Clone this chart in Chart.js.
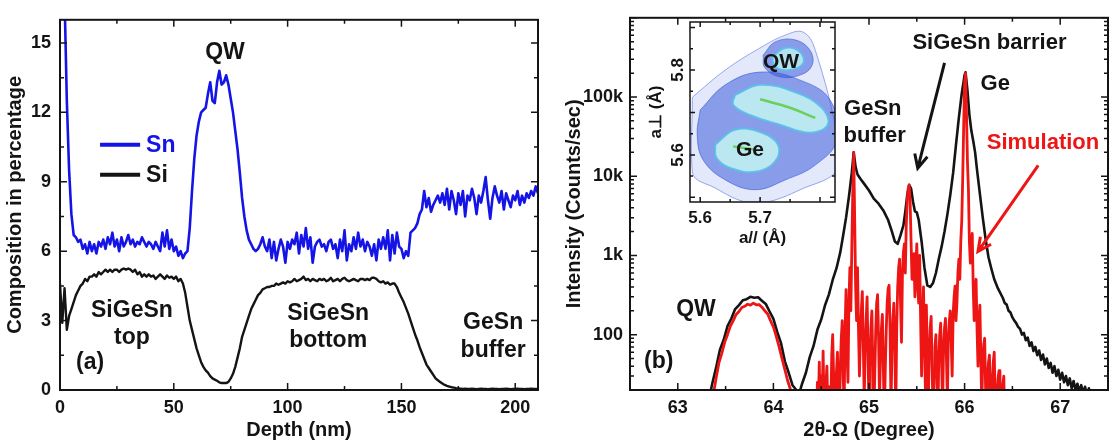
<!DOCTYPE html>
<html>
<head>
<meta charset="utf-8">
<script src="https://cdn.jsdelivr.net/npm/chart.js@4/dist/chart.umd.min.js"></script>
<style>
  html, body { margin: 0; padding: 0; background: #fff; }
  #wrap { position: relative; width: 1111px; height: 440px; overflow: hidden; }
  .box { position: absolute; }
</style>
</head>
<body>
<div id="wrap">
  <div class="box" style="left:0;top:0;width:555px;height:440px"><canvas id="depthChart"></canvas></div>
  <div class="box" style="left:555px;top:0;width:556px;height:440px"><canvas id="xrdChart"></canvas></div>
  <div class="box" style="left:635px;top:10px;width:205px;height:245px"><canvas id="rsmChart"></canvas></div>
</div>
<script>
// ---- (a) depth profile, 1 nm sampling ----
const depthNm = Array.from({ length: 211 }, (_, i) => i);
const snPct = [
  30, 24, 17, 12.5, 9.5, 7.6, 6.7, 6.6, 6.4, 6.5,
  6.1, 6.3, 5.9, 6.4, 6.0, 6.3, 5.9, 6.4, 6.2, 6.5,
  6.1, 6.6, 6.3, 6.8, 6.2, 6.5, 6.0, 6.6, 6.2, 6.4,
  6.7, 6.3, 6.5, 6.2, 6.4, 6.3, 6.6, 6.4, 6.2, 6.4,
  6.3, 6.1, 6.4, 6.2, 6.0, 6.8, 6.2, 6.9, 6.1, 6.5,
  6.0, 6.2, 5.8, 6.0, 5.7, 5.9, 6.0, 7.0, 8.6, 10.0,
  11.0, 11.6, 12.0, 12.1, 12.2, 12.8, 13.3, 12.5, 12.4, 13.3,
  13.8, 13.2, 13.3, 13.6, 13.2, 12.6, 12.0, 11.2, 10.4, 9.4,
  8.3, 7.5, 6.9, 6.5, 6.3, 6.1, 6.0, 6.1, 6.3, 6.6,
  6.2, 6.0, 6.5, 5.7, 6.4, 5.6, 6.1, 6.5, 6.2, 5.5,
  6.4, 6.1, 6.5, 6.3, 6.8, 5.9, 6.7, 6.2, 7.0, 6.1,
  6.6, 5.5, 6.2, 6.4, 6.5, 6.2, 6.3, 6.0, 6.4, 6.5,
  6.1, 6.3, 5.7, 6.5, 6.0, 6.9, 5.6, 6.3, 6.0, 6.6,
  6.1, 6.8, 6.2, 6.5, 6.0, 6.4, 6.2, 5.8, 6.3, 5.6,
  6.5, 6.1, 6.6, 6.1, 6.9, 5.6, 6.7, 5.9, 6.8, 6.2,
  6.1, 5.7, 6.0, 5.8, 6.8, 6.9, 7.0, 7.2, 7.6, 7.8,
  8.6, 7.9, 8.3, 7.7, 8.0, 8.2, 8.4, 8.1, 8.5, 8.0,
  8.7, 7.8, 8.6, 8.2, 7.6, 8.5, 8.0, 8.6, 7.5, 8.4,
  8.2, 8.7, 8.3, 7.6, 8.4, 8.1, 8.6, 9.2, 8.2, 7.4,
  8.3, 8.8, 8.4, 8.1, 8.6, 7.8, 8.5, 8.2, 7.9, 8.4,
  8.2, 8.6, 8.0, 8.4, 8.1, 8.5, 8.3, 8.6, 8.4, 8.8,
  8.5
];
const siPct = [
  4.6, 2.9, 4.4, 2.6, 3.2, 3.5, 3.8, 4.1, 4.3, 4.5,
  4.6, 4.8, 4.7, 4.9, 4.9, 5.0, 4.9, 5.1, 5.0, 5.1,
  5.2, 5.1, 5.2, 5.1, 5.2, 5.2, 5.1, 5.2, 5.25, 5.2,
  5.25, 5.2, 5.1, 5.2, 5.0, 5.1, 4.9, 5.0, 4.9, 5.0,
  4.9, 4.95, 4.8, 4.9, 5.0, 4.9, 4.8, 4.95, 4.85, 4.9,
  4.8, 4.9, 4.7, 4.8, 4.6, 4.2, 3.6, 3.0, 2.6, 2.2,
  1.8, 1.5, 1.2, 1.0, 0.85, 0.75, 0.6, 0.5, 0.45, 0.4,
  0.33, 0.3, 0.3, 0.3, 0.35, 0.5, 0.7, 1.0, 1.4, 1.8,
  2.3, 2.6, 2.9, 3.2, 3.5, 3.7, 3.9, 4.1, 4.2, 4.35,
  4.4, 4.45, 4.45, 4.5, 4.5, 4.6, 4.55, 4.6, 4.65, 4.6,
  4.7, 4.65, 4.7, 4.8, 4.7, 4.75, 4.8, 4.9, 4.75, 4.8,
  4.7, 4.8, 4.75, 4.7, 4.8, 4.75, 4.8, 4.7, 4.75, 4.85,
  4.7, 4.75, 4.8, 4.7, 4.8, 4.85, 4.75, 4.7, 4.75, 4.8,
  4.75, 4.7, 4.8, 4.8, 4.75, 4.8, 4.75, 4.85, 4.85, 4.8,
  4.7, 4.65, 4.7, 4.6, 4.65, 4.55, 4.6, 4.6, 4.45, 4.2,
  4.0, 3.8, 3.55, 3.3, 3.0, 2.7, 2.4, 2.15, 1.85, 1.6,
  1.35, 1.1, 0.95, 0.8, 0.65, 0.5, 0.42, 0.35, 0.28, 0.22,
  0.18, 0.15, 0.12, 0.1, 0.08, 0.07, 0.06, 0.05, 0.06, 0.05,
  0.05, 0.06, 0.05, 0.04, 0.05, 0.06, 0.05, 0.05, 0.04, 0.05,
  0.06, 0.05, 0.05, 0.04, 0.05, 0.05, 0.06, 0.05, 0.04, 0.05,
  0.05, 0.06, 0.05, 0.05, 0.04, 0.05, 0.05, 0.06, 0.05, 0.05,
  0.05
];

// ---- (b) XRD 2theta-omega scan ----
const thetaMeasured = [
  63.33, 63.36, 63.40, 63.44, 63.48, 63.52, 63.56, 63.60, 63.64, 63.68,
  63.72, 63.76, 63.80, 63.84, 63.88, 63.92, 63.96, 64.00, 64.04, 64.08,
  64.12, 64.16, 64.20, 64.24, 64.27, 64.30, 64.34, 64.38, 64.42, 64.46,
  64.50, 64.54, 64.58, 64.62, 64.66, 64.70, 64.73, 64.76, 64.79, 64.82,
  64.84, 64.86, 64.88, 64.91, 64.95, 65.00, 65.05, 65.10, 65.15, 65.20,
  65.24, 65.27, 65.30, 65.33, 65.36, 65.38, 65.40, 65.42, 65.44, 65.46,
  65.48, 65.50, 65.52, 65.55, 65.58, 65.61, 65.64, 65.67, 65.70, 65.73,
  65.76, 65.79, 65.82, 65.85, 65.88, 65.91, 65.94, 65.97, 66.00, 66.01,
  66.03, 66.05, 66.07, 66.09, 66.11, 66.13, 66.16, 66.19, 66.22, 66.25,
  66.28, 66.31, 66.35, 66.40, 66.42, 66.44, 66.46, 66.48, 66.50, 66.52,
  66.54, 66.56, 66.58, 66.60, 66.62, 66.64, 66.66, 66.68, 66.70, 66.72,
  66.74, 66.76, 66.78, 66.80, 66.82, 66.84, 66.86, 66.88, 66.90, 66.92,
  66.94, 66.96, 66.98, 67.00, 67.02, 67.04, 67.06, 67.08, 67.10, 67.12,
  67.14, 67.16, 67.18, 67.20, 67.22, 67.24, 67.26, 67.28, 67.30, 67.33
];
const countsMeasured = [
  16, 24, 38, 64, 86, 128, 160, 210, 236, 272,
  280, 300, 292, 296, 268, 244, 196, 158, 108, 78,
  46, 33, 23, 20, 18, 24, 33, 52, 72, 115,
  155, 235, 320, 490, 690, 1100, 1800, 3000, 5500, 11000,
  20000, 13000, 10500, 9300, 8000, 6600, 5200, 4500, 3700, 2800,
  2000, 1500, 1400, 1800, 2400, 3600, 5800, 7800, 7000, 4800,
  3600, 3500, 2800, 1500, 700, 420, 400, 450, 600, 900,
  1300, 2000, 3300, 5800, 11000, 25000, 55000, 110000, 190000, 205000,
  120000, 60000, 38000, 28000, 20000, 12000, 6000, 3000, 1600, 950,
  680, 500, 380, 290, 250, 240, 200, 190, 165, 150,
  140, 125, 118, 100, 105, 85, 92, 72, 80, 62,
  70, 55, 63, 48, 56, 42, 50, 38, 44, 33,
  40, 30, 36, 27, 33, 25, 30, 23, 28, 21,
  26, 20, 24, 19, 23, 18, 22, 17, 21, 16
];
const thetaSimQw = [
  63.37, 63.40, 63.43, 63.46, 63.49, 63.52, 63.55, 63.58, 63.61, 63.64,
  63.67, 63.70, 63.73, 63.76, 63.79, 63.82, 63.85, 63.88, 63.91, 63.94,
  63.97, 64.00, 64.03, 64.06, 64.09, 64.12, 64.15, 64.18, 64.21
];
const countsSimQw = [
  17, 28, 44, 58, 80, 100, 128, 150, 180, 196,
  220, 228, 242, 236, 250, 238, 240, 222, 200, 182,
  150, 125, 95, 70, 50, 36, 26, 20, 16
];
// simulated fringes, sampled every 0.01 degree from 64.45
const simFringeStart = 64.45, simFringeStep = 0.01;
const countsSimFringe = [
  8, 25, 12, 45, 10, 30, 14, 62, 12, 8,
  25, 40, 10, 6, 22, 10, 55, 100, 30, 8,
  20, 35, 60, 15, 6, 40, 90, 150, 30, 12,
  120, 370, 60, 25, 250, 700, 200, 1200, 6000, 20000,
  3000, 400, 150, 700, 120, 30, 90, 200, 350, 80,
  15, 60, 150, 300, 60, 10, 40, 120, 200, 40,
  8, 30, 110, 250, 320, 90, 15, 50, 120, 180,
  40, 8, 35, 110, 250, 380, 420, 120, 12, 60,
  160, 250, 70, 10, 120, 400, 700, 900, 250, 80,
  600, 1100, 1400, 600, 2500, 5000, 7000, 7700, 5000, 1500,
  500, 900, 1050, 300, 700, 1400, 400, 250, 1000, 150,
  30, 150, 400, 80, 20, 235, 50, 12, 60, 120,
  170, 40, 10, 30, 70, 100, 25, 8, 50, 100,
  140, 40, 12, 70, 120, 160, 50, 15, 90, 150,
  200, 80, 30, 180, 300, 410, 150, 250, 600, 900,
  500, 1500, 2700, 9000, 40000, 150000, 200000, 60000, 15000, 7000,
  1500, 800, 1300, 1900, 400, 150, 350, 500, 120, 40,
  150, 235, 50, 12, 50, 75, 90, 20, 6, 30,
  45, 55, 15, 5, 25, 45, 60, 14, 4, 18,
  28, 35, 10, 3, 15, 24, 30, 8, 3, 12,
  4
];
const simFringeTheta = countsSimFringe.map((_, i) => +(simFringeStart + i * simFringeStep).toFixed(2));
const thetaTickValues = [63, 64, 65, 66, 67];
const intensityTickLabels = { 100: '100', 1000: '1k', 10000: '10k', 100000: '100k' };

// ---- inset: reciprocal space map contours, [a//, a_perp] in Angstrom ----
const rsmArea = [[5.587, 5.736], [5.642, 5.800], [5.700, 5.852], [5.742, 5.882], [5.772, 5.889], [5.792, 5.847],
  [5.830, 5.635], [5.830, 5.565], [5.767, 5.518], [5.712, 5.489], [5.675, 5.489], [5.625, 5.522], [5.587, 5.558], [5.587, 5.736]];
const rsmCloud = [[5.600, 5.706], [5.642, 5.765], [5.700, 5.795], [5.767, 5.776], [5.817, 5.729], [5.828, 5.635],
  [5.792, 5.576], [5.742, 5.541], [5.692, 5.518], [5.642, 5.541], [5.605, 5.588], [5.595, 5.647], [5.600, 5.706]];
const rsmMainCore = [[5.658, 5.741], [5.700, 5.765], [5.758, 5.748], [5.803, 5.711], [5.813, 5.671], [5.783, 5.652],
  [5.733, 5.671], [5.683, 5.694], [5.655, 5.718], [5.658, 5.741]];
const rsmGeCore = [[5.625, 5.624], [5.658, 5.659], [5.700, 5.654], [5.730, 5.624], [5.725, 5.584], [5.692, 5.560],
  [5.650, 5.569], [5.627, 5.593], [5.625, 5.624]];
const rsmQwRing = [[5.705, 5.835], [5.725, 5.866], [5.758, 5.871], [5.783, 5.847], [5.787, 5.812], [5.767, 5.788],
  [5.733, 5.784], [5.708, 5.805], [5.705, 5.835]];
const rsmQwCore = [[5.720, 5.831], [5.742, 5.852], [5.767, 5.842], [5.772, 5.816], [5.750, 5.800], [5.725, 5.807], [5.720, 5.831]];
const rsmMainRidge = [[5.700, 5.731], [5.750, 5.711], [5.792, 5.687]];
const rsmGeRidge = [[5.655, 5.620], [5.692, 5.612]];
const rsmParTickLabels = [5.6, 5.7];
const rsmPerpTickLabels = [5.6, 5.8];

const FONT = "'Liberation Sans', Arial, sans-serif";
const INK = '#141414';
const BLUE = '#1414e6';
const RED = '#ee1515';

const toXY = (xs, ys) => xs.map((x, i) => ({ x, y: ys[i] }));
const pairs = (arr) => arr.map(p => ({ x: p[0], y: p[1] }));

// frame with inward major/minor ticks on all four sides
const frameTicks = {
  id: 'frameTicks',
  afterDraw(chart, args, opts) {
    const { ctx, chartArea: a } = chart;
    ctx.save();
    ctx.strokeStyle = INK;
    ctx.lineWidth = opts.width || 2;
    ctx.strokeRect(a.left, a.top, a.right - a.left, a.bottom - a.top);
    ctx.lineWidth = 1.5;
    const marks = (scale, spec) => {
      const out = [];
      if (spec.log) {
        const e0 = Math.floor(Math.log10(scale.min)), e1 = Math.ceil(Math.log10(scale.max));
        for (let e = e0; e <= e1; e++) {
          for (let k = 1; k < 10; k++) out.push([k * Math.pow(10, e), k === 1]);
        }
      } else {
        const ratio = Math.round(spec.major / spec.minor);
        const i0 = Math.ceil(scale.min / spec.minor - 1e-9), i1 = Math.floor(scale.max / spec.minor + 1e-9);
        for (let i = i0; i <= i1; i++) out.push([i * spec.minor, i % ratio === 0]);
      }
      return out.filter(m => m[0] >= scale.min && m[0] <= scale.max);
    };
    const big = opts.major || 7, small = opts.minor || 4;
    ctx.beginPath();
    marks(chart.scales.x, opts.x).forEach(([v, major]) => {
      const p = chart.scales.x.getPixelForValue(v), l = major ? big : small;
      ctx.moveTo(p, a.bottom); ctx.lineTo(p, a.bottom - l);
      ctx.moveTo(p, a.top); ctx.lineTo(p, a.top + l);
    });
    marks(chart.scales.y, opts.y).forEach(([v, major]) => {
      const p = chart.scales.y.getPixelForValue(v), l = major ? big : small;
      ctx.moveTo(a.left, p); ctx.lineTo(a.left + l, p);
      ctx.moveTo(a.right, p); ctx.lineTo(a.right - l, p);
    });
    ctx.stroke();
    ctx.restore();
  }
};

// text labels, arrows and legend keys placed in data coordinates
const notes = {
  id: 'notes',
  afterDraw(chart, args, opts) {
    const { ctx } = chart;
    const sx = chart.scales.x, sy = chart.scales.y;
    const px = v => sx.getPixelForValue(v), py = v => sy.getPixelForValue(v);
    ctx.save();
    ctx.textBaseline = 'middle';
    (opts.keys || []).forEach(k => {
      ctx.strokeStyle = k.color;
      ctx.lineWidth = 4;
      ctx.beginPath();
      ctx.moveTo(px(k.x1), py(k.y));
      ctx.lineTo(px(k.x2), py(k.y));
      ctx.stroke();
      ctx.fillStyle = k.color;
      ctx.textAlign = 'left';
      ctx.font = `bold ${k.size}px ${FONT}`;
      ctx.fillText(k.label, px(k.x2) + 6, py(k.y) + 1);
    });
    (opts.texts || []).forEach(t => {
      ctx.fillStyle = t.color || INK;
      ctx.textAlign = 'center';
      ctx.font = `bold ${t.size}px ${FONT}`;
      ctx.fillText(t.text, px(t.x), py(t.y));
    });
    (opts.arrows || []).forEach(ar => {
      const x1 = px(ar.from[0]), y1 = py(ar.from[1]);
      const x2 = px(ar.to[0]), y2 = py(ar.to[1]);
      const ang = Math.atan2(y2 - y1, x2 - x1), h = 15;
      ctx.strokeStyle = ar.color;
      ctx.lineWidth = 3;
      ctx.beginPath();
      ctx.moveTo(x1, y1); ctx.lineTo(x2, y2);
      ctx.moveTo(x2 - h * Math.cos(ang - 0.45), y2 - h * Math.sin(ang - 0.45));
      ctx.lineTo(x2, y2);
      ctx.lineTo(x2 - h * Math.cos(ang + 0.45), y2 - h * Math.sin(ang + 0.45));
      ctx.stroke();
    });
    ctx.restore();
  }
};

const whiteArea = {
  id: 'whiteArea',
  beforeDatasetsDraw(chart) {
    const { ctx, chartArea: a } = chart;
    ctx.save();
    ctx.fillStyle = '#fff';
    ctx.fillRect(a.left, a.top, a.right - a.left, a.bottom - a.top);
    ctx.restore();
  }
};

const tickFont = { family: FONT, size: 18, weight: 'bold' };
const titleFont = { family: FONT, size: 20, weight: 'bold', lineHeight: 1 };

// ---------- chart (a) ----------
new Chart(document.getElementById('depthChart'), {
  type: 'line',
  data: {
    datasets: [
      { label: 'Sn', data: toXY(depthNm, snPct), borderColor: BLUE, borderWidth: 2.6, pointRadius: 0, borderJoinStyle: 'round' },
      { label: 'Si', data: toXY(depthNm, siPct), borderColor: INK, borderWidth: 2.4, pointRadius: 0, borderJoinStyle: 'round' }
    ]
  },
  options: {
    responsive: true,
    maintainAspectRatio: false,
    animation: false,
    events: [],
    layout: { padding: { left: 0, right: 17, top: 12, bottom: 0 } },
    plugins: {
      legend: { display: false },
      tooltip: { enabled: false },
      frameTicks: { x: { major: 50, minor: 25 }, y: { major: 3, minor: 1.5 } },
      notes: {
        keys: [
          { x1: 17.6, x2: 35.2, y: 10.6, color: BLUE, label: 'Sn', size: 23 },
          { x1: 17.6, x2: 35.2, y: 9.3, color: INK, label: 'Si', size: 23 }
        ],
        texts: [
          { text: 'QW', x: 72.5, y: 14.6, size: 23 },
          { text: 'SiGeSn', x: 31.6, y: 3.45, size: 23 },
          { text: 'top', x: 31.6, y: 2.25, size: 23 },
          { text: '(a)', x: 13.2, y: 1.2, size: 23 },
          { text: 'SiGeSn', x: 117.8, y: 3.3, size: 23 },
          { text: 'bottom', x: 117.8, y: 2.15, size: 23 },
          { text: 'GeSn', x: 190.3, y: 2.9, size: 23 },
          { text: 'buffer', x: 190.3, y: 1.7, size: 23 }
        ]
      }
    },
    scales: {
      x: {
        type: 'linear', min: 0, max: 210,
        grid: { display: false, drawTicks: false }, border: { display: false },
        ticks: { stepSize: 50, font: tickFont, color: INK, padding: 7, includeBounds: false },
        title: { display: true, text: 'Depth (nm)', font: titleFont, color: INK, padding: { top: 0, bottom: 0 } },
        afterFit: s => { s.height = 50; }
      },
      y: {
        type: 'linear', min: 0, max: 16,
        grid: { display: false, drawTicks: false }, border: { display: false },
        ticks: { stepSize: 3, font: tickFont, color: INK, padding: 9, includeBounds: false },
        title: { display: true, text: 'Composition in percentage', font: titleFont, color: INK, padding: { top: 5, bottom: 0 } },
        afterFit: s => { s.width = 60; }
      }
    }
  },
  plugins: [frameTicks, notes]
});

// ---------- chart (b) ----------
new Chart(document.getElementById('xrdChart'), {
  type: 'line',
  data: {
    datasets: [
      { label: 'Simulation fringes', data: toXY(simFringeTheta, countsSimFringe), borderColor: RED, borderWidth: 2.8, pointRadius: 0, borderJoinStyle: 'round' },
      { label: 'Simulation QW', data: toXY(thetaSimQw, countsSimQw), borderColor: RED, borderWidth: 2.8, pointRadius: 0, borderJoinStyle: 'round' },
      { label: 'Measured', data: toXY(thetaMeasured, countsMeasured), borderColor: INK, borderWidth: 2.6, pointRadius: 0, borderJoinStyle: 'round' }
    ]
  },
  options: {
    responsive: true,
    maintainAspectRatio: false,
    animation: false,
    events: [],
    layout: { padding: { left: 0, right: 3, top: 11, bottom: 0 } },
    plugins: {
      legend: { display: false },
      tooltip: { enabled: false },
      frameTicks: { x: { major: 1, minor: 0.5 }, y: { log: true } },
      notes: {
        texts: [
          { text: 'QW', x: 63.19, y: 204, size: 23 },
          { text: '(b)', x: 62.8, y: 46, size: 23 },
          { text: 'GeSn', x: 65.04, y: 71000, size: 22 },
          { text: 'buffer', x: 65.06, y: 32000, size: 22 },
          { text: 'SiGeSn barrier', x: 66.26, y: 478000, size: 22 },
          { text: 'Ge', x: 66.32, y: 145000, size: 22 },
          { text: 'Simulation', x: 66.82, y: 26000, size: 22, color: RED }
        ],
        arrows: [
          { from: [65.79, 270000], to: [65.51, 12600], color: INK },
          { from: [66.77, 13700], to: [66.14, 1120], color: RED }
        ]
      }
    },
    scales: {
      x: {
        type: 'linear', min: 62.5, max: 67.5,
        grid: { display: false, drawTicks: false }, border: { display: false },
        ticks: { font: tickFont, color: INK, padding: 7 },
        afterBuildTicks: s => { s.ticks = thetaTickValues.map(v => ({ value: v })); },
        title: { display: true, text: '2θ-Ω (Degree)', font: titleFont, color: INK, padding: { top: 0, bottom: 0 } },
        afterFit: s => { s.height = 50; }
      },
      y: {
        type: 'logarithmic', min: 20, max: 1000000,
        grid: { display: false, drawTicks: false }, border: { display: false },
        ticks: {
          font: tickFont, color: INK, padding: 7, autoSkip: false,
          callback: v => {
            const k = Object.keys(intensityTickLabels).find(t => Math.abs(v - t) / t < 1e-6);
            return k ? intensityTickLabels[k] : '';
          }
        },
        title: { display: true, text: 'Intensity (Counts/sec)', font: titleFont, color: INK, padding: { top: 9, bottom: 0 } },
        afterFit: s => { s.width = 75; }
      }
    }
  },
  plugins: [frameTicks, notes]
});

// ---------- inset: reciprocal space map ----------
const shape = (arr, fill, border, order, width) => ({
  data: pairs(arr), showLine: true, fill: fill ? 'shape' : false, backgroundColor: fill || 'transparent',
  borderColor: border, borderWidth: width || 1, pointRadius: 0, tension: 0.4, order
});
new Chart(document.getElementById('rsmChart'), {
  type: 'scatter',
  data: {
    datasets: [
      shape(rsmArea, 'rgba(80,110,230,0.16)', 'rgba(60,90,220,0.5)', 6, 1),
      shape(rsmCloud, 'rgba(45,80,215,0.5)', 'rgba(45,80,215,0.55)', 5, 1),
      shape(rsmQwRing, 'rgba(45,80,215,0.5)', 'rgba(45,80,215,0.55)', 5, 1),
      shape(rsmMainCore, 'rgba(190,236,240,0.95)', 'rgba(90,190,235,0.9)', 3, 2),
      shape(rsmGeCore, 'rgba(190,236,240,0.95)', 'rgba(90,190,235,0.9)', 3, 2),
      shape(rsmQwCore, 'rgba(180,230,240,0.95)', 'rgba(90,190,235,0.9)', 3, 2),
      shape(rsmMainRidge, null, '#6ccf5a', 1, 2.5),
      shape(rsmGeRidge, null, '#6ccf5a', 1, 2.5)
    ]
  },
  options: {
    responsive: true,
    maintainAspectRatio: false,
    animation: false,
    events: [],
    layout: { padding: { left: 0, right: 5, top: 12, bottom: 0 } },
    plugins: {
      legend: { display: false },
      tooltip: { enabled: false },
      frameTicks: { x: { major: 0.1, minor: 0.05 }, y: { major: 0.1, minor: 0.05 }, width: 1.5, major: 5, minor: 3 },
      notes: {
        texts: [
          { text: 'QW', x: 5.735, y: 5.819, size: 21 },
          { text: 'Ge', x: 5.683, y: 5.612, size: 21 }
        ]
      }
    },
    scales: {
      x: {
        type: 'linear', min: 5.583, max: 5.825,
        grid: { display: false, drawTicks: false }, border: { display: false },
        ticks: {
          stepSize: 0.1, font: { family: FONT, size: 17, weight: 'bold' }, color: INK, padding: 6, includeBounds: false,
          callback: v => rsmParTickLabels.some(t => Math.abs(v - t) < 1e-6) ? v.toFixed(1) : ''
        },
        title: { display: true, text: 'a// (Å)', font: { family: FONT, size: 17, weight: 'bold', lineHeight: 1 }, color: INK, padding: { top: 0, bottom: 8 } },
        afterFit: s => { s.height = 53; }
      },
      y: {
        type: 'linear', min: 5.489, max: 5.913,
        grid: { display: false, drawTicks: false }, border: { display: false },
        ticks: {
          stepSize: 0.1, font: { family: FONT, size: 17, weight: 'bold' }, color: INK, padding: 0, includeBounds: false,
          minRotation: 90, maxRotation: 90, crossAlign: 'center',
          callback: v => rsmPerpTickLabels.some(t => Math.abs(v - t) < 1e-6) ? v.toFixed(1) : ''
        },
        title: { display: true, text: 'a⊥ (Å)', font: { family: FONT, size: 17, weight: 'bold', lineHeight: 1 }, color: INK, padding: { top: 13, bottom: 0 } },
        afterFit: s => { s.width = 55; }
      }
    }
  },
  plugins: [whiteArea, frameTicks, notes]
});
</script>
</body>
</html>
